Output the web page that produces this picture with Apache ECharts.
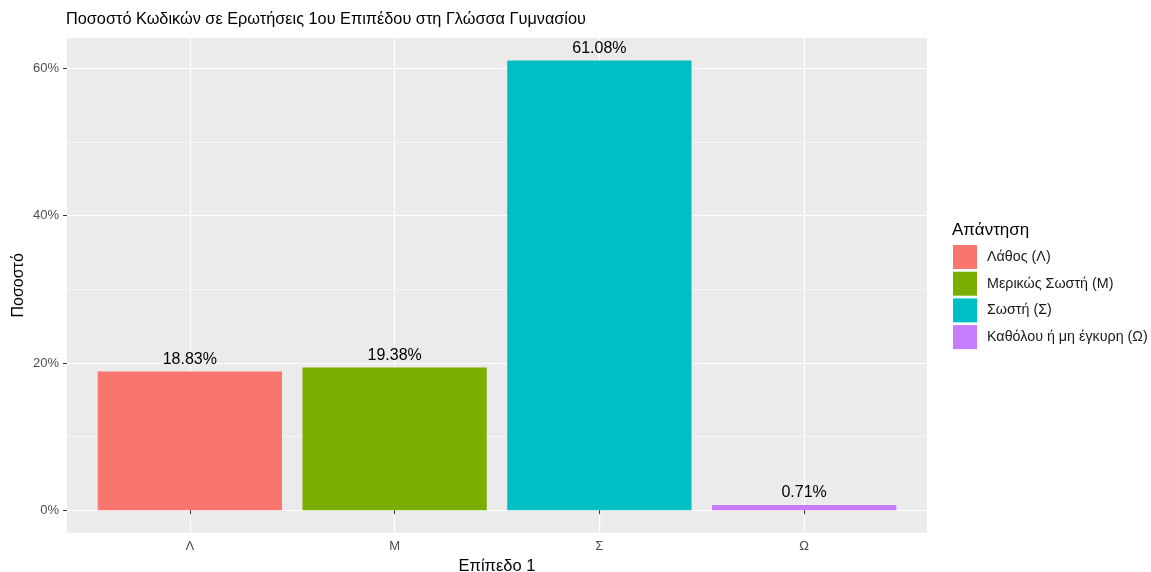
<!DOCTYPE html>
<html><head><meta charset="utf-8">
<script src="https://cdn.jsdelivr.net/npm/echarts@6/dist/echarts.min.js"></script>
<style>html,body{margin:0;padding:0;background:#fff}#c{width:1151px;height:572px}</style>
</head><body><div id="c"></div>
<script>
const titleText = 'Ποσοστό Κωδικών σε Ερωτήσεις 1ου Επιπέδου στη Γλώσσα Γυμνασίου';
const categories = ['Λ', 'Μ', 'Σ', 'Ω'];
const seriesNames = ['Λάθος (Λ)', 'Μερικώς Σωστή (Μ)', 'Σωστή (Σ)', 'Καθόλου ή μη έγκυρη (Ω)'];
const values = [18.83, 19.38, 61.08, 0.71];
const colors = ['#F8766D', '#7CAE00', '#00BFC4', '#C77CFF'];
const yTicks = [0, 20, 40, 60];
const xTitle = 'Επίπεδο 1';
const yTitle = 'Ποσοστό';
const legendTitle = 'Απάντηση';

const FONT = '"Liberation Sans", Arial, sans-serif';
// ggplot-like expansions
const dMax = Math.max(...values), dMin = 0;
const yMin = dMin - 0.05 * (dMax - dMin), yMax = dMax + 0.05 * (dMax - dMin);
const P = {left: 67, right: 927, top: 38, bottom: 532.7};
const W = 1151, H = 572;
const nCat = categories.length;
const unit = (P.right - P.left) / (nCat - 1 + 1.2);
const xLeft = P.left + 0.6 * unit, xRight = P.right - 0.6 * unit;
const pxPer = (P.bottom - P.top) / (yMax - yMin);
const topTick = yTicks[yTicks.length - 1];
const gridYTop = P.top + (yMax - topTick) * pxPer;
const gridYBottom = P.bottom - (0 - yMin) * pxPer;

const chart = echarts.init(document.getElementById('c'));
const series = seriesNames.map((name, i) => ({
  name, type: 'bar', barGap: '-100%', xAxisIndex: 1, yAxisIndex: 1,
  barWidth: 0.9 * unit, clip: false,
  itemStyle: {color: colors[i]},
  data: categories.map((c, j) => j === i ? values[j] : '-'),
  label: {show: true, position: 'top', distance: 4, color: '#000', fontFamily: FONT, fontSize: 16,
    formatter: p => Number(p.value).toFixed(2) + '%'}
}));
chart.setOption({
  animation: false,
  backgroundColor: '#fff',
  title: [
    {text: titleText, left: 66, top: 12, padding: [0,0,0,0], textStyle: {fontFamily: FONT, fontSize: 16.3, fontWeight: 'normal', color: '#000'}},
    {text: legendTitle, left: 952, top: 222, padding: [0,0,0,0], textStyle: {fontFamily: FONT, fontSize: 17, fontWeight: 'normal', color: '#000'}}
  ],
  legend: {
    orient: 'vertical', left: 953, top: 245, padding: 0, icon: 'rect', itemWidth: 24, itemHeight: 24, itemGap: 2.7,
    textStyle: {fontFamily: FONT, fontSize: 14.3, color: '#1a1a1a', padding: [0, 0, 0, 5]},
    data: seriesNames, selectedMode: false
  },
  grid: [
    {left: P.left, right: W - P.right, top: P.top, bottom: H - P.bottom, show: true, backgroundColor: '#EBEBEB', borderWidth: 0, outerBoundsMode: 'none', containLabel: false},
    {left: xLeft, right: W - xRight, top: P.top, bottom: H - P.bottom, show: false, outerBoundsMode: 'none', containLabel: false},
    {left: P.left, right: W - P.right, top: gridYTop, bottom: H - gridYBottom, show: false, outerBoundsMode: 'none', containLabel: false}
  ],
  xAxis: [
    {gridIndex: 0, type: 'value', show: false},
    {gridIndex: 1, type: 'category', data: categories, boundaryGap: false,
      axisLine: {show: false}, axisTick: {show: true, length: 4, interval: 0, lineStyle: {color: '#333', width: 1}},
      axisLabel: {interval: 0, margin: 7, color: '#4d4d4d', fontFamily: FONT, fontSize: 13},
      splitLine: {show: true, interval: 0, lineStyle: {color: '#fff', width: 1.2}},
      name: xTitle, nameLocation: 'middle', nameGap: 20, nameTextStyle: {fontFamily: FONT, fontSize: 16.5, color: '#000'}},
    {gridIndex: 2, type: 'value', show: false}
  ],
  yAxis: [
    {gridIndex: 0, type: 'value', min: yMin, max: yMax, show: true,
      axisLine: {show: false}, axisTick: {show: false}, axisLabel: {show: false}, splitLine: {show: false},
      name: yTitle, nameLocation: 'middle', nameGap: 40, nameRotate: 90,
      nameTextStyle: {fontFamily: FONT, fontSize: 16, color: '#000'}},
    {gridIndex: 1, type: 'value', min: yMin, max: yMax, show: false},
    {gridIndex: 2, type: 'value', min: 0, max: topTick, interval: yTicks[1] - yTicks[0],
      axisLine: {show: false}, axisTick: {show: true, length: 4, lineStyle: {color: '#333'}},
      axisLabel: {margin: 8, color: '#4d4d4d', fontFamily: FONT, fontSize: 13, formatter: v => v + '%'},
      splitLine: {show: true, lineStyle: {color: '#fff', width: 1.2}}},
    {gridIndex: 2, type: 'value', min: 0, max: topTick, interval: (yTicks[1] - yTicks[0]) / 2,
      axisLine: {show: false}, axisTick: {show: false}, axisLabel: {show: false},
      splitLine: {show: true, lineStyle: {color: '#fff', width: 0.6}}}
  ],
  series: series.concat([
    {type: 'line', xAxisIndex: 0, yAxisIndex: 0, data: [], silent: true},
    {type: 'line', xAxisIndex: 2, yAxisIndex: 2, data: [], silent: true},
    {type: 'line', xAxisIndex: 2, yAxisIndex: 3, data: [], silent: true}
  ])
});
</script></body></html>
